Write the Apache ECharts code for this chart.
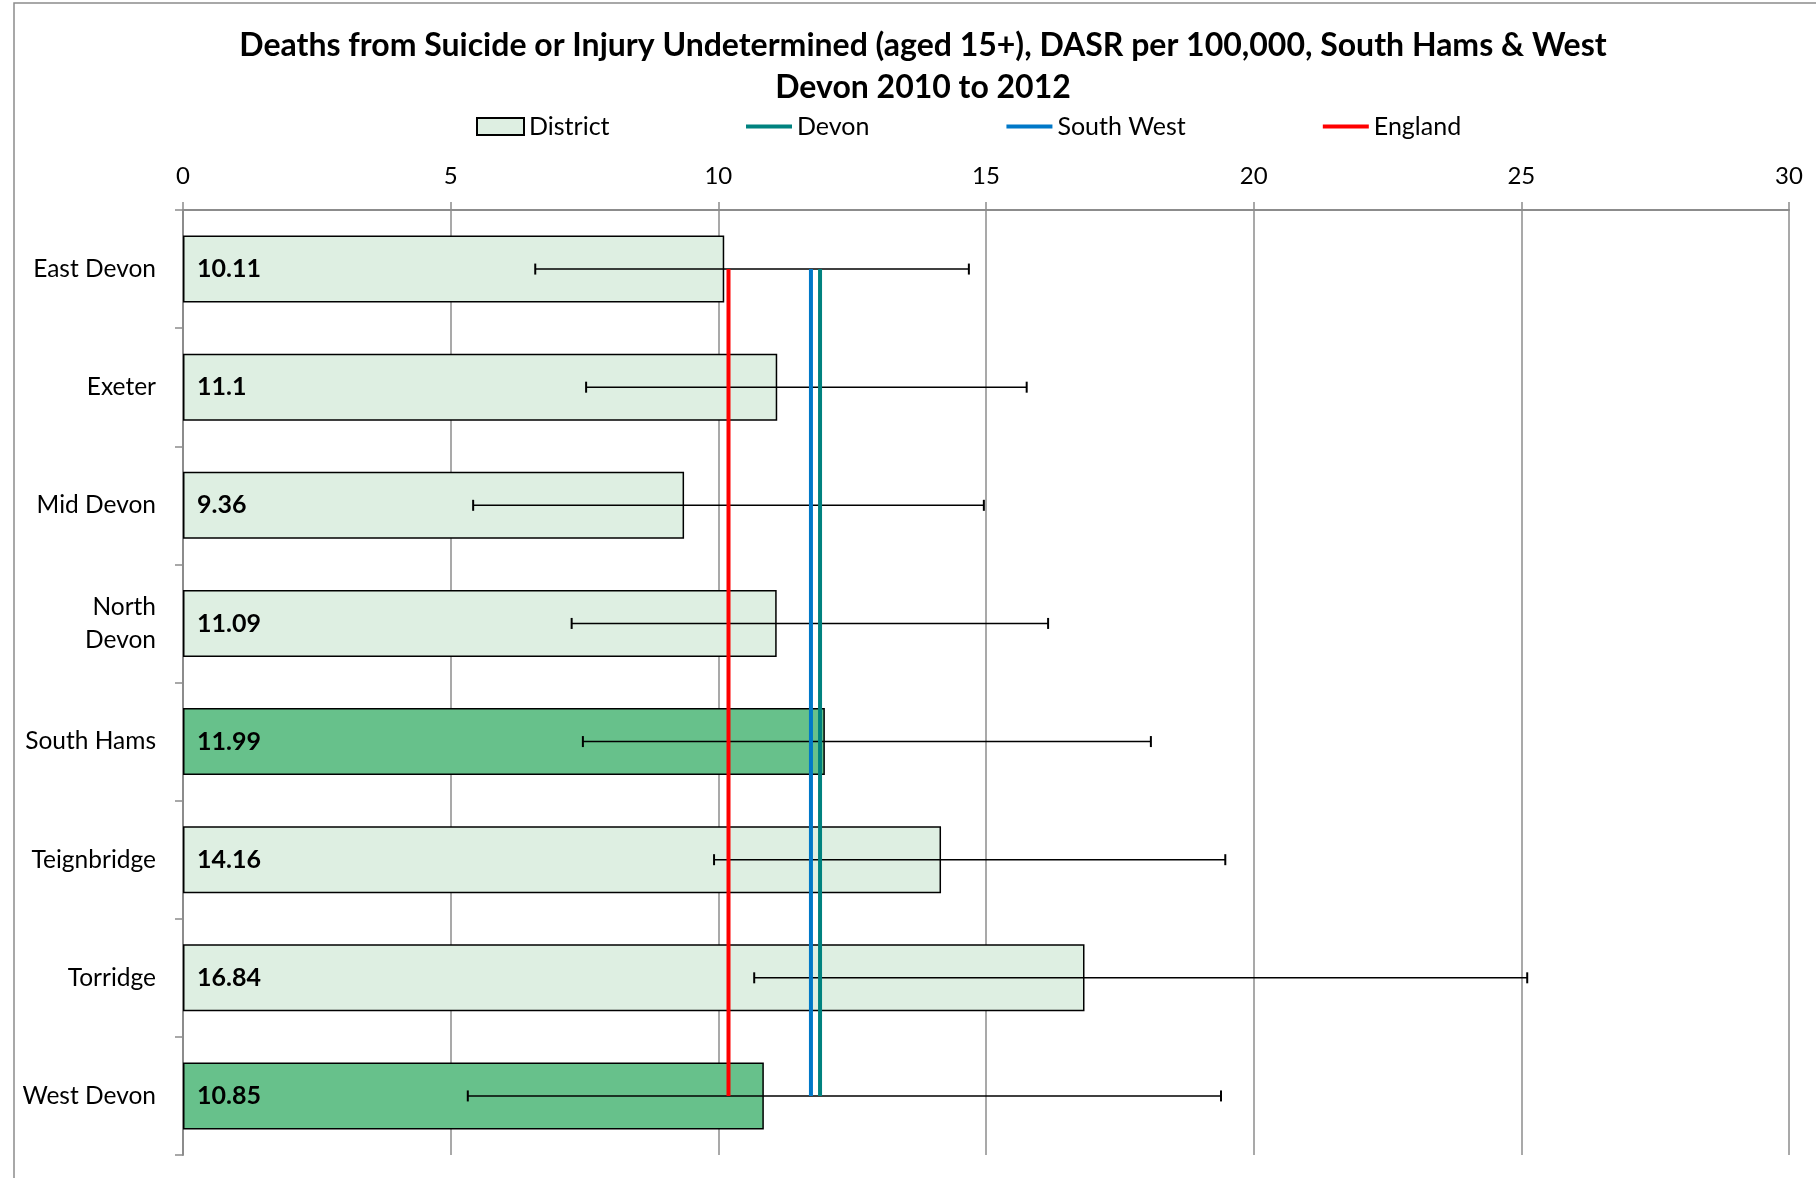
<!DOCTYPE html>
<html>
<head>
<meta charset="utf-8">
<script src="https://cdn.jsdelivr.net/npm/echarts@6/dist/echarts.min.js"></script>
<style>
  html, body { margin: 0; padding: 0; background: #fff; }
  #chart { width: 1816px; height: 1178px; }
</style>
</head>
<body>
<div id="chart"></div>
<script>
// Districts, rate (DASR per 100,000) and 95% confidence limits
const districts = ["East Devon", "Exeter", "Mid Devon", "North\nDevon", "South Hams", "Teignbridge", "Torridge", "West Devon"];
const rates = [10.11, 11.1, 9.36, 11.09, 11.99, 14.16, 16.84, 10.85];
const lowerCI = [6.58, 7.53, 5.42, 7.26, 7.47, 9.92, 10.67, 5.32];
const upperCI = [14.68, 15.76, 14.96, 16.16, 18.08, 19.47, 25.11, 19.39];
const highlighted = ["South Hams", "West Devon"];

// comparator rates
const devonRate = 11.9;
const southWestRate = 11.73;
const englandRate = 10.19;

const xTicks = [0, 5, 10, 15, 20, 25, 30];

const FONT = "Lato";
const LIGHT = "#DEEFE2";
const DARK = "#67C18B";

const chart = echarts.init(document.getElementById("chart"), null, { renderer: "canvas" });

const refLine = (name, value, color) => ({
  name: name,
  type: "line",
  data: districts.map((d) => [value, d]),
  symbol: "none",
  z: 5,
  lineStyle: { color: color, width: 4 },
  itemStyle: { color: color },
  silent: true,
});

const legendText = { fontFamily: FONT, fontSize: 25, color: "#000", padding: [0, 0, 0, 0] };

chart.setOption({
  animation: false,
  backgroundColor: "#fff",
  title: {
    text: "Deaths from Suicide or Injury Undetermined (aged 15+), DASR per 100,000, South Hams & West\nDevon 2010 to 2012",
    left: 918,
    top: 20,
    textAlign: "center",
    textStyle: { fontFamily: FONT, fontWeight: "bold", fontSize: 32, lineHeight: 42, color: "#000" },
  },
  legend: [
    {
      left: 471,
      top: 109,
      itemWidth: 47,
      itemHeight: 17,
      textStyle: legendText,
      data: [{ name: "District", icon: "rect" }],
    },
    {
      left: 741,
      top: 109,
      itemWidth: 46,
      itemHeight: 4,
      itemGap: 137,
      textStyle: legendText,
      data: [
        { name: "Devon", icon: "rect" },
        { name: "South West", icon: "rect" },
        { name: "England", icon: "rect" },
      ],
    },
  ],
  graphic: [
    {
      type: "rect",
      silent: true,
      shape: { x: 14, y: 3, width: 1900, height: 1300 },
      style: { fill: "none", stroke: "#8c8c8c", lineWidth: 1.5 },
    },
  ],
  grid: { left: 183, right: 27, top: 210, bottom: 23, containLabel: false },
  xAxis: {
    type: "value",
    position: "top",
    min: 0,
    max: 30,
    interval: 5,
    axisLine: { show: true, lineStyle: { color: "#8c8c8c", width: 2 } },
    axisTick: { show: true, length: 8, lineStyle: { color: "#8c8c8c", width: 1.5 } },
    splitLine: { show: true, lineStyle: { color: "#8c8c8c", width: 1.5 } },
    axisLabel: {
      margin: 22,
      fontFamily: FONT,
      fontSize: 24,
      color: "#000",
      formatter: (v) => (xTicks.includes(v) ? String(v) : ""),
    },
  },
  yAxis: {
    type: "category",
    inverse: true,
    data: districts,
    axisLine: { show: true, lineStyle: { color: "#8c8c8c", width: 2 } },
    axisTick: { show: true, length: 8, lineStyle: { color: "#8c8c8c", width: 1.5 } },
    axisLabel: { margin: 27, fontFamily: FONT, fontSize: 24.5, color: "#000", lineHeight: 33 },
  },
  series: [
    {
      name: "District",
      type: "bar",
      barWidth: 67,
      z: 2,
      itemStyle: { color: LIGHT, borderColor: "#000", borderWidth: 1.5 },
      data: rates.map((r, i) => ({
        value: r,
        itemStyle: { color: highlighted.includes(districts[i]) ? DARK : LIGHT },
      })),
      label: {
        show: true,
        position: "insideLeft",
        distance: 14,
        fontFamily: FONT,
        fontWeight: "bold",
        fontSize: 25,
        color: "#000",
      },
    },
    {
      name: "CI",
      type: "custom",
      z: 3,
      silent: true,
      data: districts.map((d, i) => [i, lowerCI[i], upperCI[i]]),
      encode: { y: 0, x: [1, 2] },
      renderItem: (params, api) => {
        const cat = api.value(0);
        const lo = api.coord([api.value(1), cat]);
        const hi = api.coord([api.value(2), cat]);
        const cap = 5.5;
        const stroke = { stroke: "#000", lineWidth: 1.6 };
        return {
          type: "group",
          children: [
            { type: "line", shape: { x1: lo[0], y1: lo[1], x2: hi[0], y2: hi[1] }, style: stroke },
            { type: "line", shape: { x1: lo[0], y1: lo[1] - cap, x2: lo[0], y2: lo[1] + cap }, style: { stroke: "#000", lineWidth: 2 } },
            { type: "line", shape: { x1: hi[0], y1: hi[1] - cap, x2: hi[0], y2: hi[1] + cap }, style: { stroke: "#000", lineWidth: 2 } },
          ],
        };
      },
    },
    refLine("Devon", devonRate, "#00827F"),
    refLine("South West", southWestRate, "#0078C8"),
    refLine("England", englandRate, "#FF0000"),
  ],
});
</script>
</body>
</html>
